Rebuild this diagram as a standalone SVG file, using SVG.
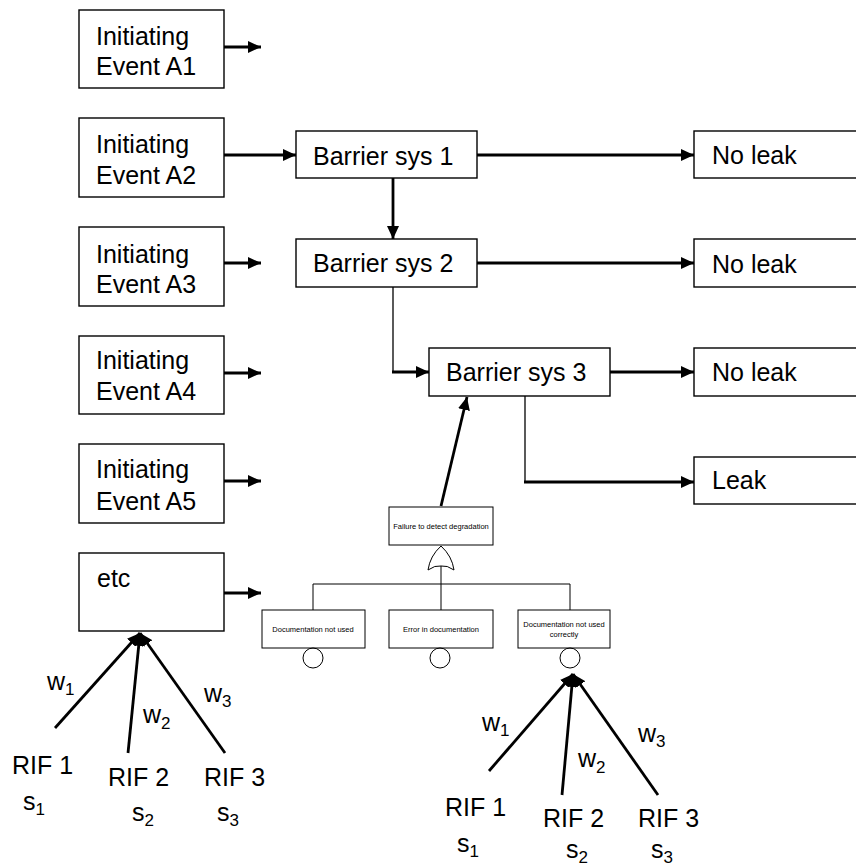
<svg xmlns="http://www.w3.org/2000/svg" width="856" height="867" viewBox="0 0 856 867">
  <style>
    text { font-family: "Liberation Sans", Arial, sans-serif; fill: #000; }
    .lbl { font-size: 25px; }
    .sm { font-size: 7.5px; }
    .sub { font-size: 17px; }
    .box { fill: #fff; stroke: #000; stroke-width: 1.4; }
    .fbox { fill: #fff; stroke: #000; stroke-width: 1; }
    .thick { fill: none; stroke: #000; stroke-width: 2.8; }
    .thin { fill: none; stroke: #000; stroke-width: 1.3; }
    .ft { fill: none; stroke: #000; stroke-width: 1; }
  </style>
  <defs>
    <marker id="arrow" viewBox="0 0 13 12" refX="13" refY="6" markerWidth="13" markerHeight="12" markerUnits="userSpaceOnUse" orient="auto">
      <path d="M0,0 L13,6 L0,12 Z" fill="#000"/>
    </marker>
  </defs>

  <rect width="856" height="867" fill="#fff"/>

  <!-- initiating events -->
  <g id="ie-a1">
    <rect class="box" x="79" y="10" width="145" height="78"/>
    <text class="lbl" x="96" y="45">Initiating</text>
    <text class="lbl" x="96" y="75">Event A1</text>
  </g>
  <g id="ie-a2">
    <rect class="box" x="79" y="118" width="145" height="79"/>
    <text class="lbl" x="96" y="153">Initiating</text>
    <text class="lbl" x="96" y="184">Event A2</text>
  </g>
  <g id="ie-a3">
    <rect class="box" x="79" y="227" width="145" height="79"/>
    <text class="lbl" x="96" y="263">Initiating</text>
    <text class="lbl" x="96" y="293">Event A3</text>
  </g>
  <g id="ie-a4">
    <rect class="box" x="79" y="336" width="145" height="78"/>
    <text class="lbl" x="96" y="369">Initiating</text>
    <text class="lbl" x="96" y="400">Event A4</text>
  </g>
  <g id="ie-a5">
    <rect class="box" x="79" y="444" width="145" height="79"/>
    <text class="lbl" x="96" y="478">Initiating</text>
    <text class="lbl" x="96" y="510">Event A5</text>
  </g>
  <g id="ie-etc">
    <rect class="box" x="79" y="553" width="145" height="78"/>
    <text class="lbl" x="97" y="587">etc</text>
  </g>

  <!-- barrier systems -->
  <g id="barrier-1">
    <rect class="box" x="296" y="131" width="181" height="47"/>
    <text class="lbl" x="313" y="165">Barrier sys 1</text>
  </g>
  <g id="barrier-2">
    <rect class="box" x="296" y="239" width="181" height="48"/>
    <text class="lbl" x="313" y="272">Barrier sys 2</text>
  </g>
  <g id="barrier-3">
    <rect class="box" x="429" y="348" width="181" height="48"/>
    <text class="lbl" x="446" y="381">Barrier sys 3</text>
  </g>

  <!-- outcomes -->
  <g id="outcome-1">
    <rect class="box" x="694" y="131" width="180" height="47"/>
    <text class="lbl" x="712" y="164">No leak</text>
  </g>
  <g id="outcome-2">
    <rect class="box" x="694" y="239" width="180" height="48"/>
    <text class="lbl" x="712" y="273">No leak</text>
  </g>
  <g id="outcome-3">
    <rect class="box" x="694" y="348" width="180" height="48"/>
    <text class="lbl" x="712" y="381">No leak</text>
  </g>
  <g id="outcome-leak">
    <rect class="box" x="694" y="457" width="180" height="47"/>
    <text class="lbl" x="712" y="489">Leak</text>
  </g>

  <!-- fault tree -->
  <g id="ft-top">
    <rect class="fbox" x="389" y="507" width="104" height="38"/>
    <text class="sm" x="441" y="529" text-anchor="middle">Failure to detect degradation</text>
  </g>
  <g id="ft-or-gate">
    <path class="ft" d="M441,546 Q452,556 454,570 Q447,565 441,566 Q435,565 428,570 Q430,556 441,546 Z"/>
  </g>
  <g id="ft-basic-1">
    <rect class="fbox" x="262" y="610" width="103" height="38"/>
    <text class="sm" x="313" y="632" text-anchor="middle">Documentation not used</text>
    <circle class="ft" cx="313" cy="658" r="10"/>
  </g>
  <g id="ft-basic-2">
    <rect class="fbox" x="389" y="610" width="104" height="38"/>
    <text class="sm" x="441" y="632" text-anchor="middle">Error in documentation</text>
    <circle class="ft" cx="440" cy="658" r="10"/>
  </g>
  <g id="ft-basic-3">
    <rect class="fbox" x="518" y="610" width="92" height="38"/>
    <text class="sm" x="564" y="627" text-anchor="middle">Documentation not used</text>
    <text class="sm" x="564" y="637" text-anchor="middle">correctly</text>
    <circle class="ft" cx="570" cy="658" r="10"/>
  </g>

  <!-- risk influencing factors -->
  <g id="rif-left">
    <text class="lbl" x="47" y="690">w<tspan class="sub" dy="5">1</tspan></text>
    <text class="lbl" x="143" y="723">w<tspan class="sub" dy="6">2</tspan></text>
    <text class="lbl" x="204" y="702">w<tspan class="sub" dy="5">3</tspan></text>
    <text class="lbl" x="12" y="774">RIF 1</text>
    <text class="lbl" x="108" y="786">RIF 2</text>
    <text class="lbl" x="204" y="786">RIF 3</text>
    <text class="lbl" x="23" y="810">s<tspan class="sub" dy="5">1</tspan></text>
    <text class="lbl" x="132" y="821">s<tspan class="sub" dy="5">2</tspan></text>
    <text class="lbl" x="217" y="821">s<tspan class="sub" dy="5">3</tspan></text>
  </g>
  <g id="rif-right">
    <text class="lbl" x="482" y="731">w<tspan class="sub" dy="5">1</tspan></text>
    <text class="lbl" x="578" y="767">w<tspan class="sub" dy="6">2</tspan></text>
    <text class="lbl" x="638" y="742">w<tspan class="sub" dy="5">3</tspan></text>
    <text class="lbl" x="445" y="816">RIF 1</text>
    <text class="lbl" x="543" y="827">RIF 2</text>
    <text class="lbl" x="638" y="827">RIF 3</text>
    <text class="lbl" x="457" y="852">s<tspan class="sub" dy="5">1</tspan></text>
    <text class="lbl" x="566" y="858">s<tspan class="sub" dy="5">2</tspan></text>
    <text class="lbl" x="651" y="858">s<tspan class="sub" dy="5">3</tspan></text>
  </g>

  <!-- connectors -->
  <g id="connectors">
    <line class="thick" x1="224" y1="47" x2="261" y2="47" marker-end="url(#arrow)"/>
    <line class="thick" x1="224" y1="155" x2="296" y2="155" marker-end="url(#arrow)"/>
    <line class="thick" x1="224" y1="263" x2="261" y2="263" marker-end="url(#arrow)"/>
    <line class="thick" x1="224" y1="373" x2="261" y2="373" marker-end="url(#arrow)"/>
    <line class="thick" x1="224" y1="481" x2="261" y2="481" marker-end="url(#arrow)"/>
    <line class="thick" x1="224" y1="593" x2="261" y2="593" marker-end="url(#arrow)"/>

    <line class="thick" x1="477" y1="155" x2="694" y2="155" marker-end="url(#arrow)"/>
    <line class="thick" x1="393" y1="178" x2="393" y2="239" marker-end="url(#arrow)"/>
    <line class="thick" x1="477" y1="263" x2="694" y2="263" marker-end="url(#arrow)"/>
    <line class="thin" x1="393" y1="287" x2="393" y2="372"/>
    <line class="thick" x1="392" y1="372" x2="429" y2="372" marker-end="url(#arrow)"/>
    <line class="thick" x1="610" y1="372" x2="694" y2="372" marker-end="url(#arrow)"/>
    <line class="thin" x1="525" y1="396" x2="525" y2="482"/>
    <line class="thick" x1="524" y1="482" x2="694" y2="482" marker-end="url(#arrow)"/>
    <line class="thick" x1="441" y1="506" x2="467" y2="397" marker-end="url(#arrow)"/>

    <!-- fault tree branches -->
    <path class="ft" d="M441,566 V610 M313,610 V584 H570 V610"/>

    <!-- RIF influences -->
    <line class="thick" x1="55" y1="728" x2="140" y2="633" marker-end="url(#arrow)"/>
    <line class="thick" x1="128" y1="753" x2="140" y2="633" marker-end="url(#arrow)"/>
    <line class="thick" x1="225" y1="753" x2="140" y2="633" marker-end="url(#arrow)"/>
    <line class="thick" x1="489" y1="771" x2="573" y2="674" marker-end="url(#arrow)"/>
    <line class="thick" x1="562" y1="795" x2="573" y2="674" marker-end="url(#arrow)"/>
    <line class="thick" x1="658" y1="795" x2="573" y2="674" marker-end="url(#arrow)"/>
  </g>
</svg>
